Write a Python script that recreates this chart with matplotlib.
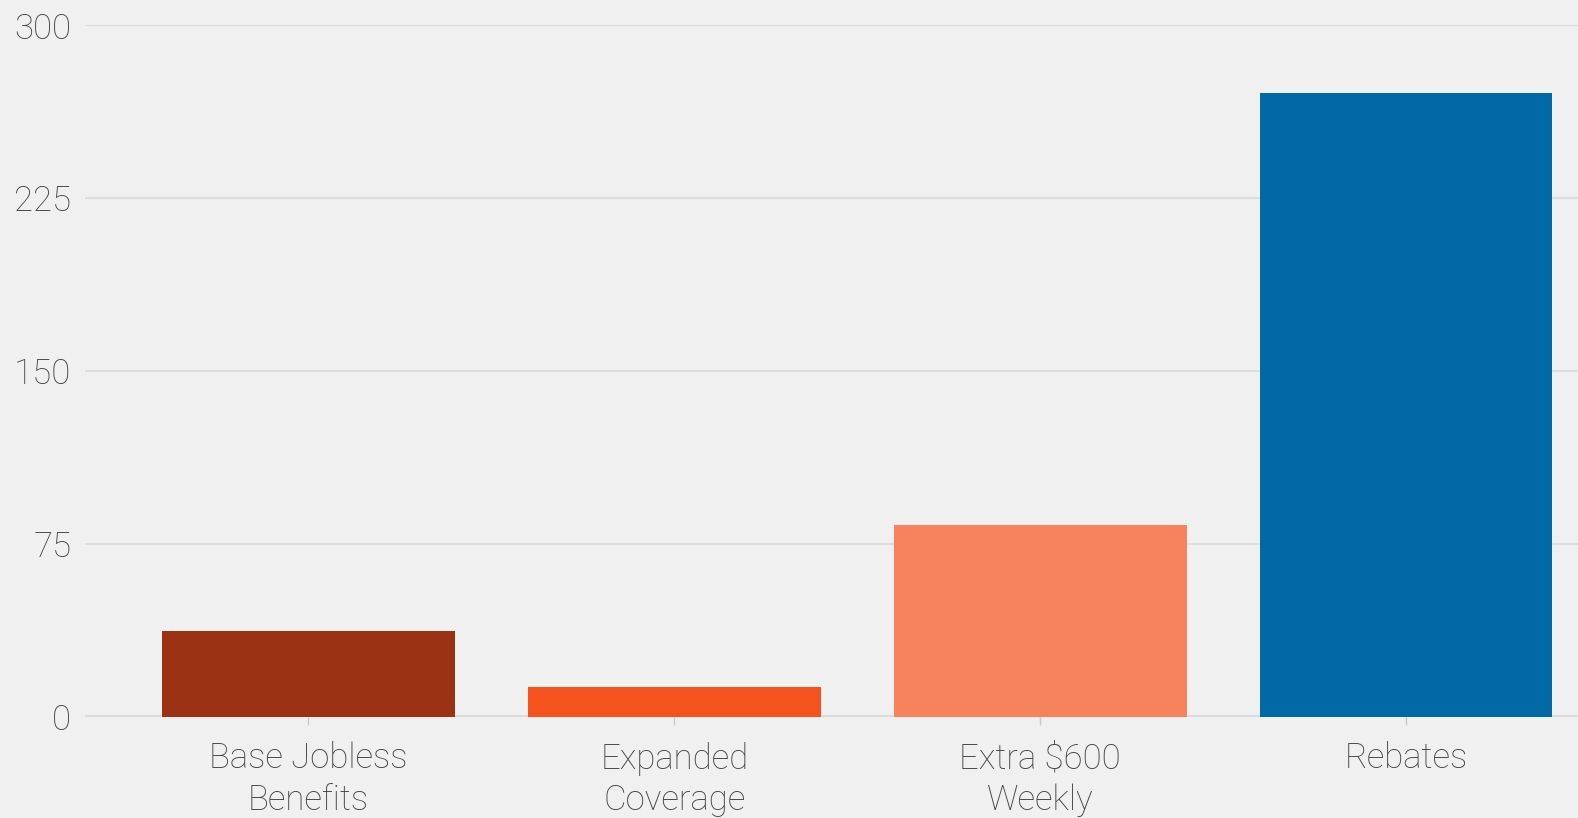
import matplotlib.pyplot as plt
import numpy as np

plt.rcParams["font.family"] = ["Roboto", "DejaVu Sans"]
plt.rcParams["font.weight"] = "light"

categories = ["Base Jobless\nBenefits", "Expanded\nCoverage", "Extra $600\nWeekly", "Rebates"]
values = [37, 13, 83, 270.5]
colors = ["#9C3214", "#F5521E", "#F7825E", "#0069A6"]
yticks = [0, 75, 150, 225, 300]

fig = plt.figure(figsize=(15.78, 8.18), dpi=100, facecolor="#F0F0F0")
ax = fig.add_axes([0.054, 0.124, 0.946, 0.845])
ax.set_facecolor("#F0F0F0")

x = np.arange(len(categories))
ax.bar(x, values, width=0.8, color=colors, zorder=3)

ax.set_xlim(-0.61, 3.47)
ax.set_ylim(0, 300)
ax.set_yticks(yticks)
ax.set_xticks(x)
ax.set_xticklabels(categories, linespacing=1.3)

ax.grid(axis="y", color="#DDDDDD", linewidth=1.5, zorder=0)
ax.axhline(0, color="#DADADA", linewidth=3.5, zorder=2)
for s in ax.spines.values():
    s.set_visible(False)

ax.tick_params(axis="y", length=0, pad=10, labelsize=25, labelcolor="#444444")
ax.tick_params(axis="x", length=6, width=1, color="#C8C8C8", pad=12,
               labelsize=25, labelcolor="#444444")

plt.savefig("out.png", dpi=100, facecolor=fig.get_facecolor())
